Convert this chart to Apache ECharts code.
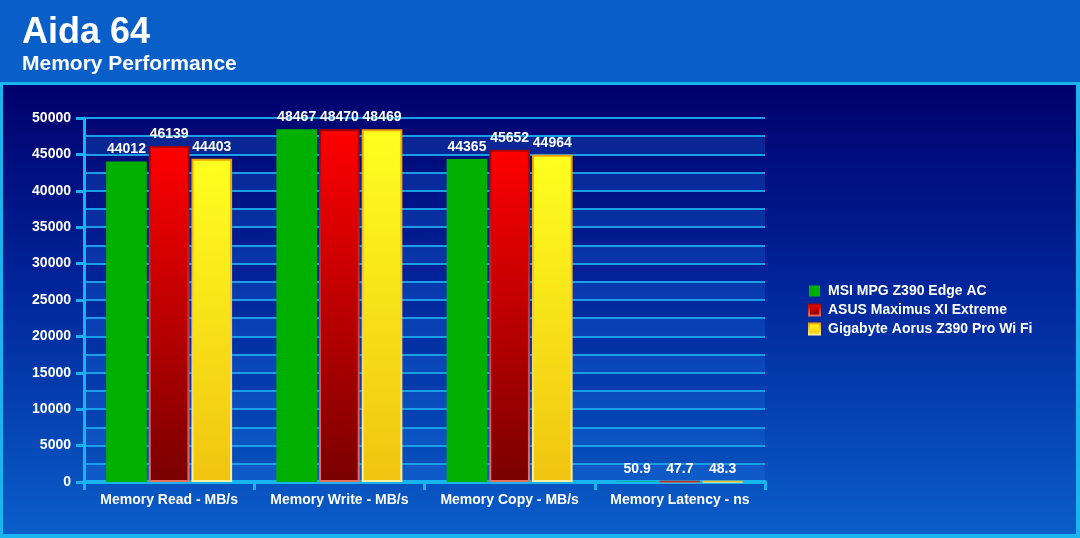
<!DOCTYPE html>
<html>
<head>
<meta charset="utf-8">
<script src="https://cdn.jsdelivr.net/npm/echarts@6/dist/echarts.min.js"></script>
<style>
html,body{margin:0;padding:0;background:#0a5ec8;}
#chart{width:1080px;height:538px;}
</style>
</head>
<body>
<div id="chart"></div>
<script>
var categories = ['Memory Read - MB/s', 'Memory Write - MB/s', 'Memory Copy - MB/s', 'Memory Latency - ns'];
var seriesNames = ['MSI MPG Z390 Edge AC', 'ASUS Maximus XI Extreme', 'Gigabyte Aorus Z390 Pro Wi Fi'];
var msiValues = [44012, 48467, 44365, 50.9];
var asusValues = [46139, 48470, 45652, 47.7];
var gigabyteValues = [44403, 48469, 44964, 48.3];
var yTicks = [0, 5000, 10000, 15000, 20000, 25000, 30000, 35000, 40000, 45000, 50000];

var chart = echarts.init(document.getElementById('chart'), null, {renderer: 'canvas'});
var FONT = '"Liberation Sans", Arial, sans-serif';
function lg(c0, c1) {
  return new echarts.graphic.LinearGradient(0, 0, 0, 1, [{offset: 0, color: c0}, {offset: 1, color: c1}]);
}
var labelStyle = {show: true, position: 'top', distance: 5, color: '#ffffff', fontFamily: FONT, fontWeight: 'bold', fontSize: 14};

var option = {
  animation: false,
  backgroundColor: '#0a5ec8',
  graphic: [
    {type: 'rect', z: -10, silent: true, shape: {x: 0, y: 0, width: 1080, height: 84}, style: {fill: '#0a5ec8'}},
    {type: 'rect', z: -10, silent: true, shape: {x: 0, y: 82, width: 1080, height: 456},
      style: {fill: '#1ab4f0'}},
    {type: 'rect', z: -9, silent: true, shape: {x: 3, y: 85, width: 1073, height: 449},
      style: {fill: new echarts.graphic.LinearGradient(0, 0, 0, 1, [
        {offset: 0, color: '#00006c'}, {offset: 0.45, color: '#00259a'}, {offset: 1, color: '#0a5ec8'}])}}
  ],
  title: {
    text: 'Aida 64',
    subtext: 'Memory Performance',
    left: 17,
    top: 10,
    itemGap: 3,
    textStyle: {color: '#ffffff', fontFamily: FONT, fontWeight: 'bold', fontSize: 36},
    subtextStyle: {color: '#ffffff', fontFamily: FONT, fontWeight: 'bold', fontSize: 21}
  },
  legend: {
    orient: 'vertical',
    left: 803,
    top: 279,
    icon: 'rect',
    itemWidth: 11,
    itemHeight: 11,
    itemGap: 5,
    textStyle: {color: '#ffffff', fontFamily: FONT, fontWeight: 'bold', fontSize: 14, padding: [0, 0, 0, 3]},
    data: seriesNames
  },
  grid: {left: 84, right: 315, top: 118, bottom: 56, containLabel: false},
  xAxis: {
    type: 'category',
    data: categories,
    axisLine: {show: true, lineStyle: {color: '#18b4f0', width: 4}},
    axisTick: {show: true, interval: 0, length: 8, lineStyle: {color: '#18b4f0', width: 3}},
    axisLabel: {interval: 0, color: '#ffffff', fontFamily: FONT, fontWeight: 'bold', fontSize: 14, margin: 11},
    splitLine: {show: false}
  },
  yAxis: [
    {
      type: 'value', min: 0, max: 50000, interval: 2500,
      axisLine: {show: false}, axisTick: {show: false}, axisLabel: {show: false},
      splitLine: {show: true, lineStyle: {color: '#1a9ee8', width: 2}},
      splitArea: {show: true, areaStyle: {color: ['rgba(30,120,230,0.25)', 'rgba(0,0,0,0)']}}
    },
    {
      type: 'value', min: 0, max: 50000, interval: 5000, position: 'left',
      axisLine: {show: true, lineStyle: {color: '#18b4f0', width: 3}},
      axisTick: {show: true, length: 8, lineStyle: {color: '#18b4f0', width: 3}},
      axisLabel: {color: '#ffffff', fontFamily: FONT, fontWeight: 'bold', fontSize: 14, margin: 13,
        formatter: function (v) { return yTicks.indexOf(v) >= 0 ? String(v) : ''; }},
      splitLine: {show: false}
    }
  ],
  series: [
    {
      name: seriesNames[0], type: 'bar', yAxisIndex: 0, data: msiValues,
      barCategoryGap: '26%', barGap: '5%',
      itemStyle: {color: '#00b000'},
      label: labelStyle
    },
    {
      name: seriesNames[1], type: 'bar', yAxisIndex: 0, data: asusValues,
      barCategoryGap: '26%', barGap: '5%',
      itemStyle: {color: lg('#ff0000', '#7a0000'), borderColor: lg('#a80000', '#e87060'), borderWidth: 2},
      label: labelStyle
    },
    {
      name: seriesNames[2], type: 'bar', yAxisIndex: 0, data: gigabyteValues,
      barCategoryGap: '26%', barGap: '5%',
      itemStyle: {color: lg('#ffff20', '#f0c410'), borderColor: lg('#f0a000', '#fff0a0'), borderWidth: 2},
      label: labelStyle
    }
  ]
};
chart.setOption(option);
</script>
</body>
</html>
